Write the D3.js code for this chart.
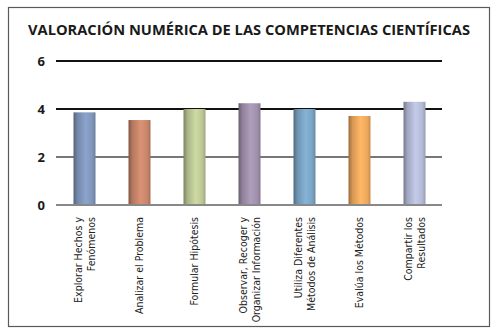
<!DOCTYPE html>
<html>
<head>
<meta charset="utf-8">
<script src="https://cdn.jsdelivr.net/npm/d3@7"></script>
<style>
  body { margin: 0; background: #fff; }
  svg { display: block; }
</style>
</head>
<body>
<svg id="chart" width="496" height="334"></svg>
<script>
const categories = [
    ['Explorar Hechos y', 'Fenómenos'],
    ['Analizar el Problema'],
    ['Formular Hipótesis'],
    ['Observar, Recoger y', 'Organizar Información'],
    ['Utiliza Diferentes', 'Métodos de Análisis'],
    ['Evalúa los Métodos'],
    ['Compartir los', 'Resultados']
]
const values = [3.86, 3.54, 4.0, 4.24, 4.0, 3.71, 4.3]
const barColors = ['#8096bb', '#c8866a', '#bcc795', '#a090ac', '#7aa4c4', '#eda85c', '#b3bad5']
const yTicks = [0, 2, 4, 6]
const title = 'VALORACIÓN NUMÉRICA DE LAS COMPETENCIAS CIENTÍFICAS'

const svg = d3.select('#chart')
const plot = { left: 57, right: 442, top: 61, bottom: 205 }

// marco exterior
svg.append('rect')
    .attr('x', 8.5).attr('y', 7.5)
    .attr('width', 481).attr('height', 319)
    .attr('fill', 'white')
    .attr('stroke', '#5a5a5a')
    .attr('stroke-width', 1.2)

svg.append('text')
    .attr('x', 28).attr('y', 35)
    .attr('textLength', 442)
    .attr('lengthAdjust', 'spacingAndGlyphs')
    .attr('font-family', 'Open Sans, sans-serif')
    .attr('font-weight', 700)
    .attr('font-size', 14)
    .attr('fill', '#1a1a1a')
    .text(title)

const x = d3.scaleBand()
    .domain(d3.range(categories.length))
    .range([plot.left, plot.right])
    .paddingInner(0.6)
    .paddingOuter(0.3)

const y = d3.scaleLinear()
    .domain([0, 6])
    .range([plot.bottom, plot.top])

// gradientes tipo cilindro
const defs = svg.append('defs')
barColors.forEach((c, i) => {
    const g = defs.append('linearGradient')
        .attr('id', `grad-${i}`)
        .attr('x1', '0%').attr('x2', '100%')
        .attr('y1', '0%').attr('y2', '0%')
    const base = d3.color(c)
    g.append('stop').attr('offset', '0%').attr('stop-color', base.darker(1.2))
    g.append('stop').attr('offset', '18%').attr('stop-color', base.darker(0.3))
    g.append('stop').attr('offset', '55%').attr('stop-color', base.brighter(0.25))
    g.append('stop').attr('offset', '85%').attr('stop-color', base)
    g.append('stop').attr('offset', '100%').attr('stop-color', base.darker(0.5))
})

// rejilla
svg.append('g')
    .selectAll('line')
    .data(yTicks)
    .join('line')
    .attr('x1', plot.left - 1)
    .attr('x2', plot.right)
    .attr('y1', d => y(d))
    .attr('y2', d => y(d))
    .attr('stroke', d => d >= 4 ? '#111' : '#777')
    .attr('stroke-width', 2)

svg.append('g')
    .selectAll('text')
    .data(yTicks)
    .join('text')
    .attr('x', 45)
    .attr('y', d => y(d))
    .attr('dy', '0.36em')
    .attr('text-anchor', 'end')
    .attr('font-family', 'Open Sans, sans-serif')
    .attr('font-weight', 700)
    .attr('font-size', 13)
    .attr('fill', '#1a1a1a')
    .text(d => d)

// barras
svg.append('g')
    .selectAll('rect')
    .data(values)
    .join('rect')
    .attr('x', (d, i) => x(i))
    .attr('y', d => y(d))
    .attr('width', x.bandwidth())
    .attr('height', d => y(0) - y(d))
    .attr('fill', (d, i) => `url(#grad-${i})`)

// línea base encima de las barras
svg.append('line')
    .attr('x1', plot.left - 1).attr('x2', plot.right)
    .attr('y1', y(0)).attr('y2', y(0))
    .attr('stroke', '#888')
    .attr('stroke-width', 2)

// etiquetas rotadas
const lineGap = 13
const labels = svg.append('g')
    .selectAll('g')
    .data(categories)
    .join('g')
    .attr('transform', (d, i) => `translate(${x(i) + x.bandwidth() / 2},217) rotate(-90)`)
labels.each(function (d) {
    const n = d.length
    d3.select(this).selectAll('text')
        .data(d)
        .join('text')
        .attr('x', 0)
        .attr('y', (t, j) => (j - (n - 1) / 2) * lineGap)
        .attr('dy', '0.35em')
        .attr('text-anchor', 'end')
        .attr('font-family', 'DejaVu Sans Condensed, Liberation Sans Narrow, sans-serif')
        .attr('font-stretch', 'condensed')
        .attr('font-size', 10.5)
        .attr('fill', '#222')
        .text(t => t)
})
</script>
</body>
</html>
